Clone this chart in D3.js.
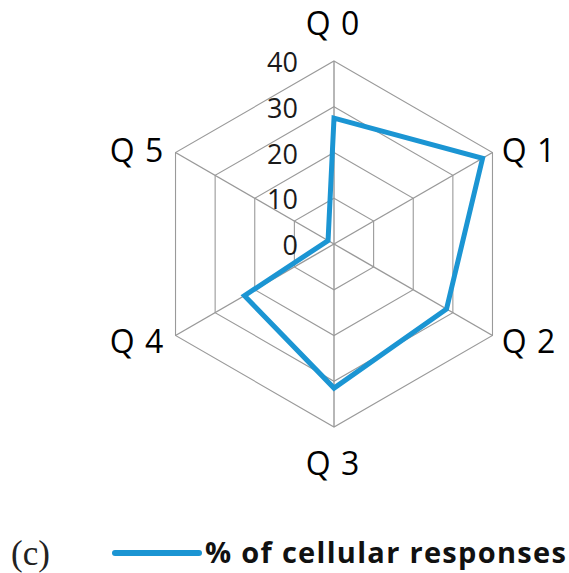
<!DOCTYPE html>
<html>
<head>
<meta charset="utf-8">
<script src="https://cdn.jsdelivr.net/npm/d3@7"></script>
<style>
  body { margin: 0; background: #fff; }
</style>
</head>
<body>
<svg width="569" height="573"></svg>
<script>
// data
const questions = ["Q 0", "Q 1", "Q 2", "Q 3", "Q 4", "Q 5"];
const responses = [27.5, 37.5, 28.4, 31.5, 22.6, 1.5];
const ticks = [0, 10, 20, 30, 40];
const seriesName = "% of cellular responses";

const svg = d3.select("svg");
const cx = 334, cy = 244, R = 183;

const r = d3.scaleLinear().domain([0, 40]).range([0, R]);
const angle = d3.scalePoint().domain(d3.range(questions.length)).range([0, 2 * Math.PI * 5 / 6]);

const pt = (i, v) => {
  const a = angle(i);
  return [cx + r(v) * Math.sin(a), cy - r(v) * Math.cos(a)];
};

const g = svg.append("g");

// rings
ticks.filter(t => t > 0).forEach(t => {
  g.append("polygon")
    .attr("points", questions.map((q, i) => pt(i, t).join(",")).join(" "))
    .attr("fill", "none")
    .attr("stroke", "#9a9a9a")
    .attr("stroke-width", 1.1);
});

// spokes
g.selectAll(".spoke")
  .data(questions)
  .enter()
  .append("line")
  .attr("x1", cx)
  .attr("y1", cy)
  .attr("x2", (d, i) => pt(i, 40)[0])
  .attr("y2", (d, i) => pt(i, 40)[1])
  .attr("stroke", "#999")
  .attr("stroke-width", 1.4);

// tick labels
g.selectAll(".tick")
  .data(ticks)
  .enter()
  .append("text")
  .attr("x", cx - 36)
  .attr("y", (d) => cy - r(d) + 11)
  .attr("text-anchor", "end")
  .attr("fill", "#1a1a1a")
  .style("font-family", "'Open Sans', sans-serif")
  .style("font-size", "27px")
  .text((d) => d);

// series
const line = d3.line().curve(d3.curveLinearClosed);
g.append("path")
  .attr("d", line(responses.map((v, i) => pt(i, v))))
  .attr("fill", "none")
  .attr("stroke", "#1b95d3")
  .attr("stroke-width", 5)
  .attr("stroke-linejoin", "miter");

// question labels
const labelPos = [
  [333, 35],
  [529, 162],
  [529, 353],
  [333, 475],
  [137, 353],
  [137, 162],
];
g.selectAll(".qlabel")
  .data(questions)
  .enter()
  .append("text")
  .attr("x", (d, i) => labelPos[i][0])
  .attr("y", (d, i) => labelPos[i][1])
  .attr("text-anchor", "middle")
  .attr("fill", "#000")
  .style("font-family", "'Open Sans', sans-serif")
  .style("font-size", "32px")
  .style("letter-spacing", "1px")
  .text((d) => d);

// legend
svg.append("text")
  .attr("x", 11)
  .attr("y", 565)
  .attr("fill", "#222")
  .style("font-family", "'Liberation Serif', serif")
  .style("font-size", "35px")
  .text("(c)");

svg.append("line")
  .attr("x1", 115)
  .attr("x2", 199)
  .attr("y1", 553)
  .attr("y2", 553)
  .attr("stroke", "#1b95d3")
  .attr("stroke-width", 6)
  .attr("stroke-linecap", "round");

svg.append("text")
  .attr("x", 205)
  .attr("y", 563)
  .attr("fill", "#111")
  .style("font-family", "'Open Sans', sans-serif")
  .style("font-size", "29px")
  .style("font-weight", "bold")
  .style("letter-spacing", "1.3px")
  .text(seriesName);
</script>
</body>
</html>
